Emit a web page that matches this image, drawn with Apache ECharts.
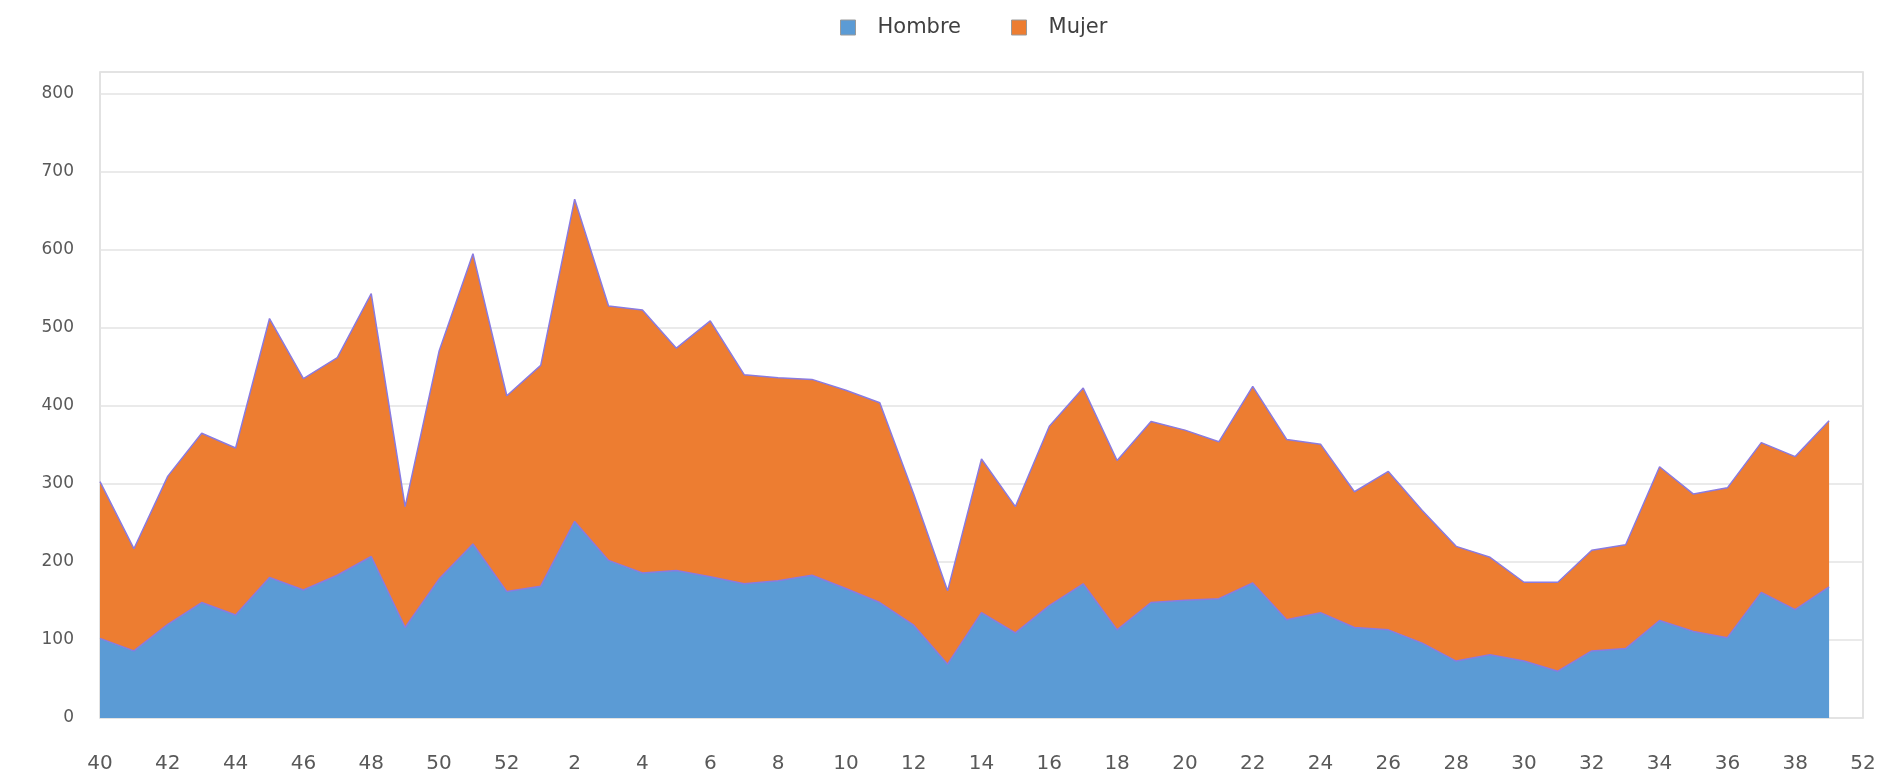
<!DOCTYPE html>
<html>
<head>
<meta charset="utf-8">
<script src="https://cdn.jsdelivr.net/npm/echarts@6/dist/echarts.min.js"></script>
<style>
  html, body { margin: 0; padding: 0; background: #ffffff; }
  #chart { width: 1888px; height: 779px; }
</style>
</head>
<body>
<div id="chart"></div>
<script>
const categories = ['40','41','42','43','44','45','46','47','48','49','50','51','52',
  '1','2','3','4','5','6','7','8','9','10','11','12','13','14','15','16','17','18','19','20',
  '21','22','23','24','25','26','27','28','29','30','31','32','33','34','35','36','37','38','39','52'];

const hombre = [102,86,120,148,132,180,164,183,207,116,178,223,162,169,252,202,186,189,181,172,176,183,166,148,119,69,135,109,144,172,113,148,151,153,173,126,135,116,113,96,73,81,73,60,86,89,125,111,103,161,139,168];

const mujer = [201,131,190,217,214,332,271,279,337,155,292,372,251,283,413,326,337,285,328,268,260,251,254,256,168,94,197,162,230,251,217,232,218,201,252,231,216,174,203,170,147,125,101,114,129,133,197,176,192,192,196,213];

const yTicks = { min: 0, max: 828, interval: 100 };

const chart = echarts.init(document.getElementById('chart'), null, { renderer: 'canvas' });

const lineColor = '#8a7be0';

chart.setOption({
  animation: false,
  textStyle: { fontFamily: 'DejaVu Sans' },
  legend: {
    top: 12,
    left: 835,
    icon: 'rect',
    itemWidth: 15,
    itemHeight: 15,
    itemGap: 50,
    textStyle: { fontSize: 21, color: '#404040', fontFamily: 'DejaVu Sans', padding: [0, 0, 0, 17] },
    data: [
      { name: 'Hombre', itemStyle: { color: '#5b9bd5', borderColor: '#9a9a9a', borderWidth: 1 } },
      { name: 'Mujer', itemStyle: { color: '#ed7d31', borderColor: '#9a9a9a', borderWidth: 1 } }
    ]
  },
  grid: {
    left: 100, right: 25, top: 72, bottom: 61,
    show: true, borderColor: '#d9d9d9', borderWidth: 1.5, backgroundColor: 'transparent'
  },
  xAxis: {
    type: 'category',
    data: categories,
    boundaryGap: false,
    axisLine: { show: false },
    axisTick: { show: false },
    splitLine: { show: false },
    axisLabel: { interval: 1, margin: 36, fontSize: 20, color: '#595959', fontFamily: 'DejaVu Sans' }
  },
  yAxis: {
    type: 'value',
    min: yTicks.min, max: yTicks.max, interval: yTicks.interval,
    axisLine: { show: false },
    axisTick: { show: false },
    axisLabel: { showMaxLabel: false, margin: 26, fontSize: 17, color: '#595959', fontFamily: 'DejaVu Sans' },
    splitLine: { lineStyle: { color: '#e3e3e3', width: 1.5 } }
  },
  series: [
    {
      name: 'Hombre', type: 'line', stack: 'total', symbol: 'none',
      itemStyle: { color: '#5b9bd5' },
      lineStyle: { color: lineColor, width: 1.5 },
      areaStyle: { color: '#5b9bd5', opacity: 1 },
      data: hombre
    },
    {
      name: 'Mujer', type: 'line', stack: 'total', symbol: 'none',
      itemStyle: { color: '#ed7d31' },
      lineStyle: { color: lineColor, width: 1.5 },
      areaStyle: { color: '#ed7d31', opacity: 1 },
      data: mujer
    }
  ]
});
</script>
</body>
</html>
